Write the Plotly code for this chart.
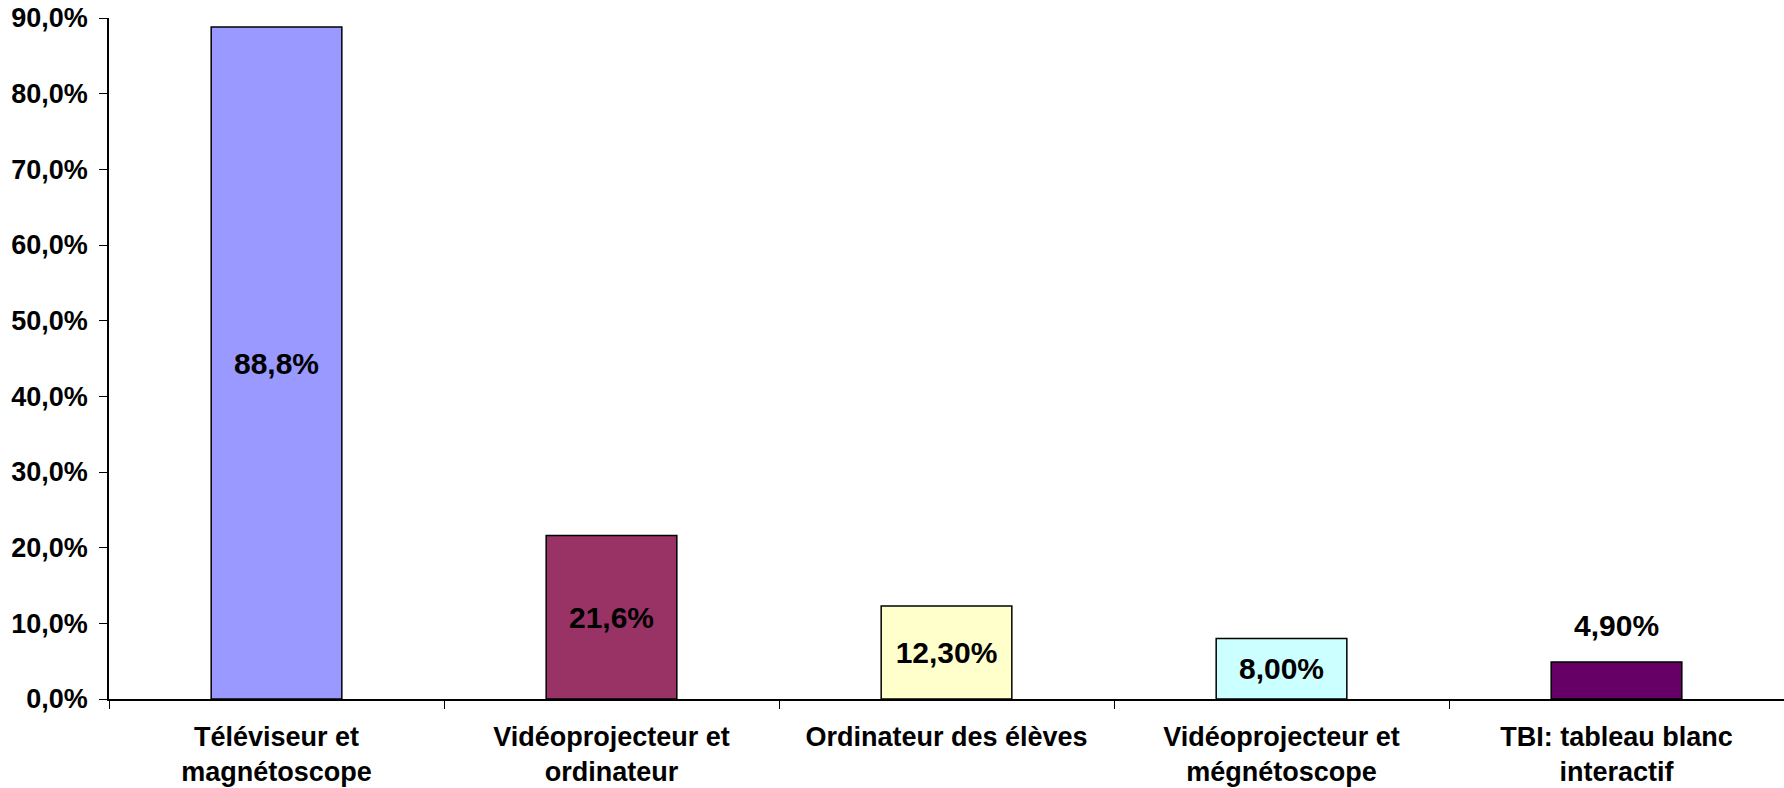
import plotly.graph_objects as go

categories = ["Téléviseur et<br>magnétoscope", "Vidéoprojecteur et<br>ordinateur",
              "Ordinateur des élèves", "Vidéoprojecteur et<br>mégnétoscope",
              "TBI: tableau blanc<br>interactif"]
values = [88.8, 21.6, 12.3, 8.0, 4.9]
value_labels = ["88,8%", "21,6%", "12,30%", "8,00%", "4,90%"]
bar_colors = ["#9999FF", "#993366", "#FFFFCC", "#CCFFFF", "#660066"]
label_inside = [True, True, True, True, False]
y_ticks = [0, 10, 20, 30, 40, 50, 60, 70, 80, 90]
y_tick_labels = ["0,0%", "10,0%", "20,0%", "30,0%", "40,0%", "50,0%", "60,0%", "70,0%", "80,0%", "90,0%"]

FONT = "Liberation Sans, Arial, sans-serif"
LABEL_FONT = dict(family=FONT, size=30, color="black", weight="bold")

fig = go.Figure(go.Bar(
    x=categories, y=values,
    marker=dict(color=bar_colors, line=dict(color="black", width=1.5)),
    width=0.39,
    text=[t if inside else "" for t, inside in zip(value_labels, label_inside)],
    textposition="inside",
    insidetextanchor="middle",
    constraintext="none",
    textfont=LABEL_FONT,
    cliponaxis=False,
))

for c, v, t, inside in zip(categories, values, value_labels, label_inside):
    if not inside:
        fig.add_annotation(x=c, y=v, text=t, showarrow=False, yanchor="bottom",
                           yshift=18, font=LABEL_FONT)

fig.update_layout(
    width=1784, height=788,
    margin=dict(l=109, r=0, t=18, b=89),
    paper_bgcolor="white", plot_bgcolor="white",
    showlegend=False,
    font=dict(family=FONT, size=26, color="black", weight="bold"),
)
fig.update_xaxes(
    showline=True, linecolor="black", linewidth=1.5,
    ticks="outside", ticklen=8, tickcolor="black", tickson="boundaries",
    tickfont=dict(family=FONT, size=27, color="black", weight="bold"),
    ticklabelstandoff=13,
    ticklabeloverflow="allow",
    showgrid=False, zeroline=False, automargin=False,
)
fig.update_yaxes(
    range=[0, 90], tickvals=y_ticks, ticktext=y_tick_labels,
    showline=True, linecolor="black", linewidth=1.5,
    ticks="outside", ticklen=8, tickcolor="black",
    tickfont=dict(family=FONT, size=27, color="black", weight="bold"),
    ticklabelstandoff=6,
    ticklabeloverflow="allow",
    showgrid=False, zeroline=False, automargin=False,
)

fig.write_html("out.html", config={"displayModeBar": False},
               post_script="document.body.style.margin='0px';document.body.style.overflow='hidden';")
